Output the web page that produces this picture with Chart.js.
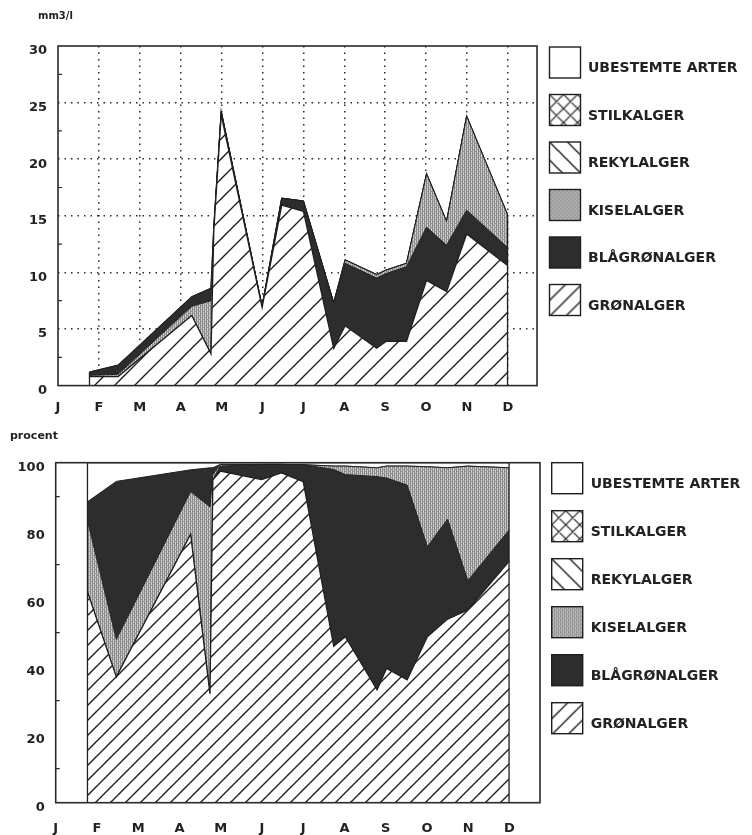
<!DOCTYPE html>
<html><head><meta charset="utf-8">
<script src="https://cdn.jsdelivr.net/npm/chart.js@4.4.0/dist/chart.umd.min.js"></script>
<style>
html,body{margin:0;padding:0;background:#fff;}
#c1{position:absolute;left:0;top:0;}
#c2{position:absolute;left:0;top:418px;}
</style></head>
<body>
<canvas id="c1" width="752" height="418"></canvas>
<canvas id="c2" width="752" height="417"></canvas>
<script>
// ---------- DATA ----------
const monthLabels = ['J','F','M','A','M','J','J','A','S','O','N','D'];
// sampling times, in months from 1 January
const sampleMonths = [0.77,1.47,3.27,3.74,3.81,3.99,4.99,5.47,6.0,6.74,7.02,7.79,8.02,8.52,9.01,9.5,9.99,10.99];
const legendNames = ['UBESTEMTE ARTER','STILKALGER','REKYLALGER','KISELALGER','BLÅGRØNALGER','GRØNALGER'];

// biovolume, mm3/l
const volGroen = [0.8,0.8,6.2,2.8,13.7,23.9,6.9,15.95,15.4,3.3,5.3,3.3,3.9,3.9,9.3,8.3,13.4,10.6];
const volBlaa  = [0.3,0.8,0.85,1.1,0.3,0.3,0.1,0.6,0.9,4.0,5.5,6.2,6.0,6.6,4.7,4.1,2.1,1.6];
const volKisel = [0.1,0.2,0.8,4.7,0.1,0,0,0,0,0,0.3,0.3,0.3,0.3,4.7,2.1,8.3,2.9];
const volRekyl = [0,0,0,0,0,0,0,0,0,0,0,0,0,0,0,0,0,0];
const volStilk = [0,0,0,0,0,0,0,0,0,0,0,0,0,0,0,0,0,0];
const volUbest = [0,0,0,0,0,0,0,0,0,0,0,0,0,0,0,0,0,0];

// percent of total
const pctGroen = [62,37,79,32,95,97.5,95,97,94.4,46,48.8,33.2,39.5,36.1,48.8,54,56.7,71];
const pctBlaa  = [5.5,46.5,6.4,11.5,2,1.5,4.5,2.5,5,52,47.7,62.7,56,57.3,26.5,29.4,8.6,9.2];
const pctKisel = [21,11,12.5,55,1.5,0.5,0,0,0,1,2.5,2.6,3.5,5.6,23.5,15.1,33.7,18.3];
const pctRekyl = [0,0,0,0,0,0,0,0,0,0,0,0,0,0,0,0,0,0];
const pctStilk = [0,0,0,0,0,0,0,0,0,0,0,0,0,0,0,0,0,0];
const pctUbest = [11.5,5.5,2.1,1.5,1.5,0.5,0.5,0.5,0.6,1,1,1.5,1,1,1.2,1.5,1,1.5];

const volTicks = [0,5,10,15,20,25,30];
const pctTicks = [0,20,40,60,80,100];
// in the first samples the blue-green band lies above the diatoms, later directly above the green algae
const blaaOnTopUntil = 5;

// ---------- PATTERNS ----------
const INK = '#1e1e1e';
function hatchTile(w, h, dir, lw) {
  const c = document.createElement('canvas'); c.width = w; c.height = h;
  const g = c.getContext('2d');
  g.fillStyle = '#fff'; g.fillRect(0,0,w,h);
  g.strokeStyle = INK; g.lineWidth = lw; g.lineCap = 'square';
  g.beginPath();
  for (const o of [-w, 0, w]) {
    if (dir === '/' || dir === 'x') { g.moveTo(o, h); g.lineTo(o + w, 0); }
    if (dir === '\\' || dir === 'x') { g.moveTo(o, 0); g.lineTo(o + w, h); }
  }
  g.stroke();
  return c;
}
function kiselTile() {
  const c = document.createElement('canvas'); c.width = 4; c.height = 4;
  const g = c.getContext('2d');
  g.fillStyle = '#cfcfcf'; g.fillRect(0,0,4,4);
  g.fillStyle = '#8a8a8a'; g.fillRect(0,0,1,4); g.fillRect(2,0,1,4);
  g.fillStyle = '#9a9a9a'; g.fillRect(1,1,1,1); g.fillRect(3,3,1,1);
  return c;
}
function makeFills(ctx, hatchW, hatchH) {
  return {
    groen: ctx.createPattern(hatchTile(hatchW, hatchH, '/', 1.4), 'repeat'),
    blaa: '#2d2d2d',
    kisel: ctx.createPattern(kiselTile(), 'repeat'),
    rekyl: ctx.createPattern(hatchTile(18, 18, '\\', 1.4), 'repeat'),
    stilk: ctx.createPattern(hatchTile(14, 14, 'x', 1.2), 'repeat'),
    ubest: '#ffffff'
  };
}

function pts(arr) { return sampleMonths.map((m, i) => ({x: m, y: arr[i]})); }

function makeDatasets(fills, s) {
  const blaaLow = s.blaa.map((v, i) => i < blaaOnTopUntil ? 0 : v);
  const blaaHigh = s.blaa.map((v, i) => i < blaaOnTopUntil ? v : 0);
  const rows = [
    ['GRØNALGER', s.groen, fills.groen, 1.3],
    ['BLÅGRØNALGER', blaaLow, fills.blaa, 1],
    ['KISELALGER', s.kisel, fills.kisel, 1],
    ['BLÅGRØNALGER ', blaaHigh, fills.blaa, 1],
    ['REKYLALGER', s.rekyl, fills.rekyl, 0],
    ['STILKALGER', s.stilk, fills.stilk, 0],
    ['UBESTEMTE ARTER', s.ubest, fills.ubest, 1.3]
  ];
  return rows.map((r, i) => ({
    label: r[0], data: pts(r[1]), backgroundColor: r[2],
    borderColor: INK, borderWidth: r[3], fill: i === 0 ? 'origin' : '-1',
    pointRadius: 0, tension: 0
  }));
}

// ---------- PLUGIN: frame, minor ticks, edges, title, legend ----------
const decor = {
  id: 'decor',
  afterDatasetsDraw(chart, args, o) {
    const ctx = chart.ctx, a = chart.chartArea, ys = chart.scales.y;
    ctx.save();
    // vertical edges of the stacked area
    const meta = chart.getDatasetMeta(chart.data.datasets.length - 1);
    const first = meta.data[0], last = meta.data[meta.data.length - 1];
    const base = ys.getPixelForValue(0);
    ctx.strokeStyle = INK; ctx.lineWidth = 1.3;
    ctx.beginPath();
    ctx.moveTo(first.x, first.y); ctx.lineTo(first.x, base);
    ctx.moveTo(last.x, last.y); ctx.lineTo(last.x, base);
    ctx.stroke();
    // frame
    ctx.strokeStyle = '#2a2a2a'; ctx.lineWidth = 1.6;
    ctx.strokeRect(a.left, a.top, a.right - a.left, a.bottom - a.top);
    // minor inward ticks
    ctx.lineWidth = 1.2;
    ctx.beginPath();
    for (let v = o.minorStart; v < ys.max; v += o.minorStep) {
      const y = ys.getPixelForValue(v);
      ctx.moveTo(a.left, y); ctx.lineTo(a.left + 4, y);
    }
    ctx.stroke();
    // unit title
    ctx.fillStyle = '#222';
    ctx.font = 'bold ' + o.titleSize + 'px "DejaVu Sans"';
    ctx.textBaseline = 'middle'; ctx.textAlign = 'left';
    ctx.fillText(o.title, o.titleX, o.titleY);
    // legend
    const lf = makeFills(ctx, 16, 16);
    const keyFill = {'UBESTEMTE ARTER': lf.ubest, 'STILKALGER': lf.stilk, 'REKYLALGER': lf.rekyl,
                     'KISELALGER': lf.kisel, 'BLÅGRØNALGER': lf.blaa, 'GRØNALGER': lf.groen};
    ctx.font = 'bold 14px "DejaVu Sans"';
    legendNames.forEach((name, i) => {
      const y = o.legTop + i * o.legStep;
      const f = keyFill[name];
      if (f instanceof CanvasPattern) f.setTransform(new DOMMatrix().translate(o.legX, y));
      ctx.fillStyle = f;
      ctx.fillRect(o.legX, y, 31, 31);
      ctx.strokeStyle = INK; ctx.lineWidth = 1.4;
      ctx.strokeRect(o.legX, y, 31, 31);
      ctx.fillStyle = '#222';
      ctx.fillText(name, o.legTextX, y + 15.5 + 6);
    });
    ctx.restore();
  }
};

const tickFont = {family: '"DejaVu Sans"', size: 13, weight: 'bold'};
const dotted = [1.5, 5];

function axisX(maxM, pad) {
  return {
    type: 'linear', min: 0, max: maxM,
    afterFit: s => { s.height = pad.h; },
    afterBuildTicks: s => { s.ticks = monthLabels.map((_, i) => ({value: i})); },
    ticks: {callback: v => monthLabels[v], font: tickFont, color: '#222', padding: pad.p, maxRotation: 0, autoSkip: false},
    grid: {drawTicks: false, lineWidth: 1.5, color: c => (pad.grid && c.tick && c.tick.value > 0) ? '#2a2a2a' : 'rgba(0,0,0,0)'},
    border: {display: false, dash: dotted}
  };
}
function axisY(maxV, ticks, w, grid) {
  return {
    stacked: true, min: 0, max: maxV,
    afterFit: s => { s.width = w; },
    afterBuildTicks: s => { s.ticks = ticks.map(v => ({value: v})); },
    ticks: {font: tickFont, color: '#222', padding: 11, labelOffset: 5},
    grid: {drawTicks: false, lineWidth: 1.5, color: c => (grid && c.tick && c.tick.value > 0 && c.tick.value < maxV) ? '#2a2a2a' : 'rgba(0,0,0,0)'},
    border: {display: false, dash: dotted}
  };
}

// ---------- TOP CHART ----------
const ctx1 = document.getElementById('c1').getContext('2d');
new Chart(ctx1, {
  type: 'line',
  data: {datasets: makeDatasets(makeFills(ctx1, 20, 20),
    {groen: volGroen, blaa: volBlaa, kisel: volKisel, rekyl: volRekyl, stilk: volStilk, ubest: volUbest})},
  options: {
    responsive: false, animation: false, devicePixelRatio: 1,
    layout: {padding: {left: 0, right: 215, top: 46, bottom: 0}},
    plugins: {legend: {display: false}, tooltip: {enabled: false},
      decor: {minorStart: 2.5, minorStep: 5, title: 'mm3/l', titleX: 38, titleY: 16, titleSize: 10,
              legX: 549.5, legTop: 47, legStep: 47.5, legTextX: 588}},
    scales: {x: axisX(11.71, {h: 32.4, p: 14, grid: true}), y: axisY(30, volTicks, 58, true)}
  },
  plugins: [decor]
});

// ---------- BOTTOM CHART ----------
const ctx2 = document.getElementById('c2').getContext('2d');
new Chart(ctx2, {
  type: 'line',
  data: {datasets: makeDatasets(makeFills(ctx2, 15, 15),
    {groen: pctGroen, blaa: pctBlaa, kisel: pctKisel, rekyl: pctRekyl, stilk: pctStilk, ubest: pctUbest})},
  options: {
    responsive: false, animation: false, devicePixelRatio: 1,
    layout: {padding: {left: 0, right: 212, top: 44.7, bottom: 0}},
    plugins: {legend: {display: false}, tooltip: {enabled: false},
      decor: {minorStart: 10, minorStep: 20, title: 'procent', titleX: 10, titleY: 18, titleSize: 11,
              legX: 551.7, legTop: 44.7, legStep: 48, legTextX: 590.7}},
    scales: {x: axisX(11.74, {h: 32.3, p: 18, grid: false}), y: axisY(100, pctTicks, 55.7, false)}
  },
  plugins: [decor]
});
</script>
</body></html>
